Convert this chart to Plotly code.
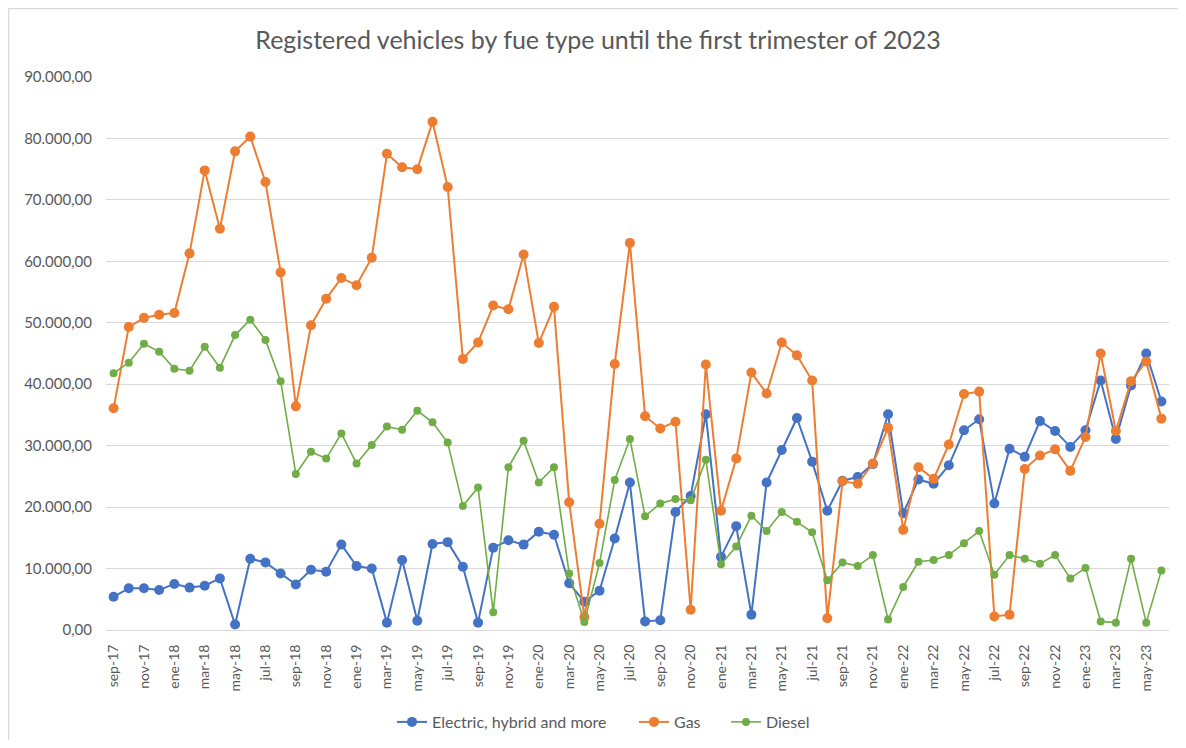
import plotly.graph_objects as go

MESES = ["ene", "feb", "mar", "abr", "may", "jun", "jul", "ago", "sep", "oct", "nov", "dic"]

# sep-17 .. jun-23, one label per month
meses = [f"{MESES[(8 + i) % 12]}-{17 + (8 + i) // 12}" for i in range(70)]

electric = [
    5400, 6800, 6800, 6500, 7500, 6900, 7200, 8400, 900, 11600,
    11000, 9200, 7400, 9800, 9500, 13900, 10400, 10000, 1200, 11400,
    1500, 14000, 14300, 10300, 1200, 13400, 14600, 13900, 16000, 15500,
    7600, 4600, 6400, 14900, 24000, 1400, 1600, 19200, 21800, 35100,
    11900, 16900, 2500, 24000, 29300, 34500, 27400, 19400, 24300, 24900,
    27000, 35100, 19000, 24500, 23800, 26800, 32500, 34300, 20600, 29500,
    28200, 34000, 32400, 29800, 32500, 40600, 31100, 39800, 45000, 37200,
]

gas = [
    36100, 49300, 50800, 51300, 51600, 61300, 74800, 65300, 77900, 80300,
    72900, 58200, 36400, 49600, 53900, 57300, 56100, 60600, 77500, 75300,
    75000, 82700, 72100, 44100, 46800, 52800, 52200, 61100, 46700, 52600,
    20800, 2100, 17300, 43300, 63000, 34800, 32800, 33900, 3300, 43200,
    19400, 27900, 41900, 38500, 46800, 44700, 40600, 1900, 24200, 23800,
    27100, 32900, 16300, 26500, 24600, 30200, 38400, 38800, 2200, 2500,
    26200, 28400, 29400, 25900, 31400, 45000, 32400, 40500, 43700, 34400,
]

diesel = [
    41800, 43500, 46600, 45300, 42500, 42200, 46100, 42700, 48000, 50500,
    47200, 40500, 25400, 29000, 27900, 32000, 27100, 30100, 33100, 32600,
    35700, 33800, 30500, 20200, 23200, 2900, 26500, 30800, 24000, 26500,
    9200, 1300, 10900, 24400, 31100, 18500, 20600, 21300, 21100, 27700,
    10700, 13600, 18600, 16100, 19200, 17600, 15900, 8100, 11000, 10400,
    12200, 1700, 7000, 11100, 11400, 12200, 14100, 16100, 9000, 12200,
    11600, 10800, 12200, 8400, 10100, 1400, 1200, 11600, 1200, 9700,
]

# name, values, colour, marker size, line width, legend id, legend left (page px)
series = [
    ("Electric, hybrid and more", electric, "#4472C4", 10, 2, "legend", 392),
    ("Gas", gas, "#ED7D31", 10, 2, "legend2", 634),
    ("Diesel", diesel, "#70AD47", 8, 1.6, "legend3", 726),
]

FONT = "Lato, 'Open Sans', sans-serif"
GRIS = "#595959"

# the page body has an 8px margin, so the figure sits at (8, 8)
OFF = 8
W, H = 1186 - 2 * OFF, 748 - 2 * OFF

# plot area in page pixels
PL, PR, PT, PB = 106, 1169, 77, 630


def _px(x):
    return (x - PL) / (PR - PL)


def _py(y):
    return (PB - y) / (PB - PT)


fig = go.Figure()

legends = {}
for nombre, valores, color, size, width, legend_id, legend_x in series:
    fig.add_trace(
        go.Scatter(
            x=meses,
            y=valores,
            name=nombre,
            mode="lines+markers",
            line=dict(color=color, width=width),
            marker=dict(color=color, size=size),
            legend=legend_id,
        )
    )
    legends[legend_id] = dict(
        orientation="h",
        xref="container",
        yref="container",
        x=(legend_x - OFF) / W,
        xanchor="left",
        y=1 - (722 - OFF) / H,
        yanchor="middle",
        font=dict(size=16, color=GRIS),
        bgcolor="rgba(0,0,0,0)",
    )

# chart area border, Excel style (only left and top edges are in view)
for x0, y0, x1, y1 in [(8.5, 8.5, 8.5, 900), (8.5, 8.5, 1400, 8.5)]:
    fig.add_shape(
        type="line",
        xref="paper",
        yref="paper",
        x0=_px(x0),
        x1=_px(x1),
        y0=_py(y0),
        y1=_py(y1),
        line=dict(color="#D9D9D9", width=1.5),
        layer="below",
    )

fig.update_layout(
    width=W,
    height=H,
    paper_bgcolor="white",
    plot_bgcolor="white",
    separators=",.",
    font=dict(family=FONT, color=GRIS, size=14),
    title=dict(
        text="Registered vehicles by fue type until the first trimester of 2023",
        x=(598 - OFF) / W,
        xanchor="center",
        y=1 - (40 - OFF) / H,
        yanchor="middle",
        font=dict(family=FONT, size=25, color=GRIS),
    ),
    margin=dict(l=PL - OFF, r=W - (PR - OFF), t=PT - OFF, b=H - (PB - OFF)),
    showlegend=True,
    xaxis=dict(
        type="category",
        range=[-0.5, 69.5],
        tickmode="array",
        tickvals=meses[::2],
        ticktext=meses[::2],
        tickangle=-90,
        tickfont=dict(size=14, color=GRIS),
        showgrid=False,
        showline=True,
        linecolor="#D9D9D9",
        linewidth=1,
        ticks="",
        ticklabelstandoff=8,
        automargin=False,
    ),
    yaxis=dict(
        range=[0, 90000],
        tickvals=[i * 10000 for i in range(10)],
        tickformat=",.2f",
        tickfont=dict(size=15, color=GRIS),
        gridcolor="#D9D9D9",
        gridwidth=1,
        zeroline=False,
        showline=False,
        ticks="",
        ticklabelstandoff=13,
        automargin=False,
    ),
    **legends,
)

fig.write_html("out.html")
